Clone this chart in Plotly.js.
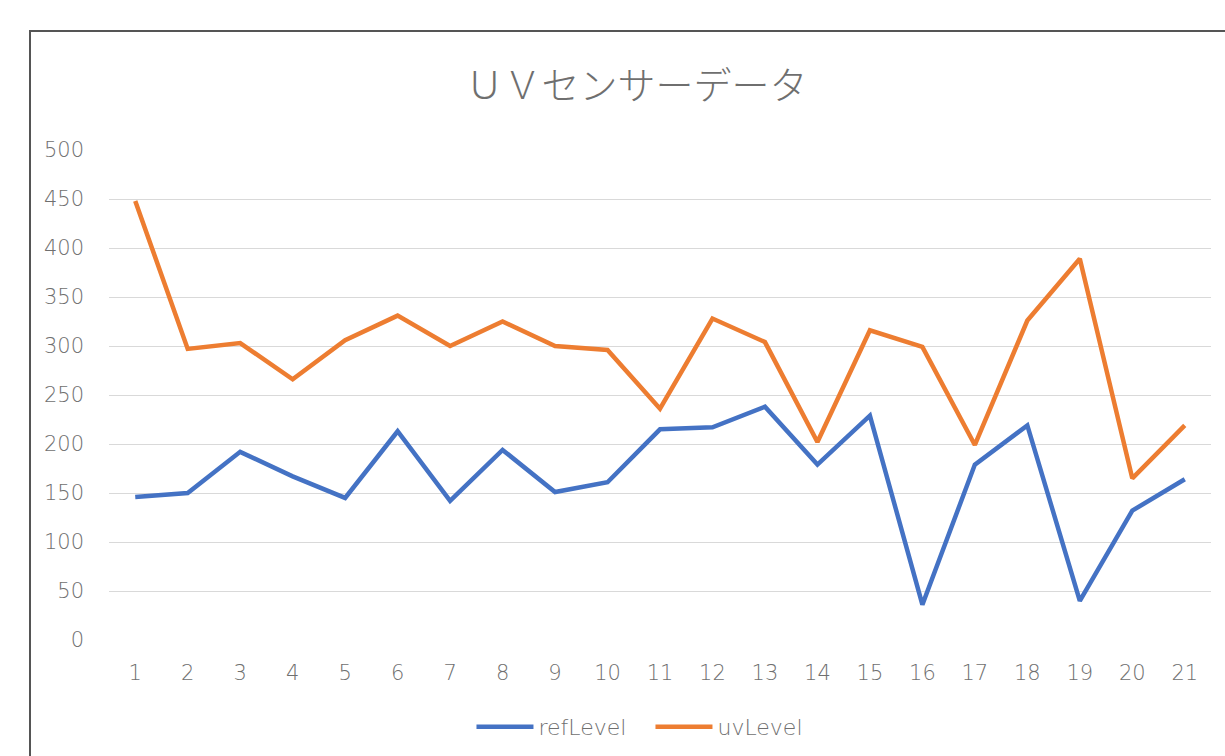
<!DOCTYPE html>
<html>
<head>
<meta charset="utf-8">
<script src="https://cdn.plot.ly/plotly-3.0.1.min.js"></script>
<style>html,body{margin:0;padding:0;background:#fff;}#chart{width:1225px;height:756px;}</style>
</head>
<body>
<div id="chart"></div>
<script>
const categories = [1,2,3,4,5,6,7,8,9,10,11,12,13,14,15,16,17,18,19,20,21];
const refLevel = [146,150,192,167,145,213,142,194,151,161,215,217,238,179,229,36,179,219,40,132,164];
const uvLevel  = [448,297,303,266,306,331,300,325,300,296,236,328,304,202,316,299,199,326,389,165,219];
const seriesNames = ["refLevel","uvLevel"];
const chartTitle = "ＵＶセンサーデータ";
const yTicks = [0,50,100,150,200,250,300,350,400,450,500];

const cjk = "'Noto Sans CJK JP', 'Noto Sans', sans-serif";
const lat = "'DejaVu Sans', 'Noto Sans', sans-serif";
const txt = '#6f6f6f';
const tf = {family: lat, size: 21, color: txt, weight: 200};
const lf = {family: lat, size: 22, color: txt, weight: 200};
const traces = [
  {x: categories, y: refLevel, name: seriesNames[0], type: 'scatter', mode: 'lines',
   line: {color: '#4472C4', width: 4.5}},
  {x: categories, y: uvLevel, name: seriesNames[1], type: 'scatter', mode: 'lines',
   line: {color: '#ED7D31', width: 4.5}}
];
const layout = {
  width: 1225, height: 756,
  margin: {l: 109, r: 14, t: 150, b: 116, autoexpand: false},
  paper_bgcolor: '#fff', plot_bgcolor: '#fff',
  font: tf,
  title: {text: chartTitle, xref: 'container', x: 0.5195, xanchor: 'center',
          yref: 'container', y: 1 - 86/756, yanchor: 'middle',
          font: {family: cjk, size: 38, color: txt, weight: 300}},
  xaxis: {type: 'linear', range: [0.5, 21.5], tickvals: categories, ticktext: categories.map(String),
          showgrid: false, zeroline: false, showline: false, ticks: '',
          ticklabelstandoff: 18, tickfont: tf, fixedrange: true, automargin: false},
  yaxis: {range: [0, 500], tickvals: yTicks, showgrid: true, gridcolor: '#d9d9d9', gridwidth: 1,
          zeroline: false, showline: false, ticks: '', ticklabelstandoff: 24,
          tickfont: tf, fixedrange: true, automargin: false},
  showlegend: true,
  legend: {orientation: 'h', xref: 'container', yref: 'container', x: 0.531, xanchor: 'center',
           y: 1 - 727/756, yanchor: 'middle',
           font: lf, itemwidth: 57, entrywidth: 107, entrywidthmode: 'pixels', bgcolor: 'rgba(0,0,0,0)'},
  shapes: [{type: 'rect', xref: 'paper', yref: 'paper',
            x0: (30 - 109) / 1102, x1: (1240 - 109) / 1102,
            y0: (640 - 770) / 490, y1: 1 + (150 - 31) / 490,
            line: {color: '#555', width: 2}, fillcolor: 'rgba(0,0,0,0)', layer: 'below'}]
};
Plotly.newPlot('chart', traces, layout, {displayModeBar: false, staticPlot: true});
</script>
</body>
</html>
